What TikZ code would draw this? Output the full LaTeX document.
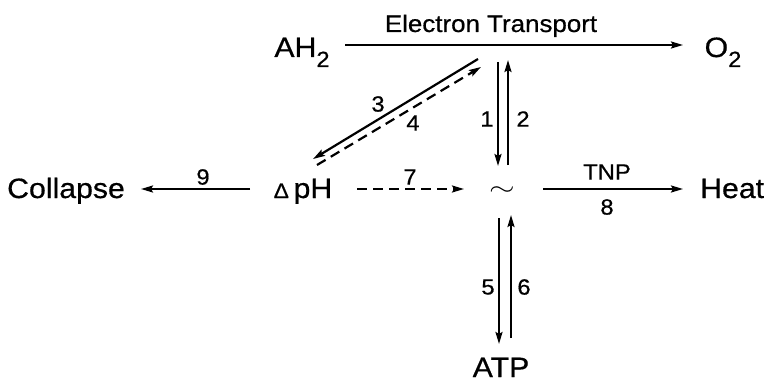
\documentclass[tikz,border=0pt]{standalone}
\usepackage{fontspec}
\setmainfont{Liberation Sans}[FakeStretch=1.08,FakeBold=0.6]
\usepackage{graphicx}
\usetikzlibrary{arrows.meta}
\begin{document}
\begin{tikzpicture}[x=1pt,y=-1pt,
  big/.style={font=\fontsize{28}{32}\selectfont, inner sep=0pt, anchor=base},
  lab/.style={font=\fontsize{22}{24}\selectfont, inner sep=0pt},
  arr/.style={line width=2.2pt, -{Stealth[length=12pt,width=7pt,inset=2pt]}},
  dsh/.style={arr, dash pattern=on 10pt off 6pt}]
\useasboundingbox (0,0) rectangle (768,385);
% main texts
\node[big] (ah2) at (302,57) {AH\raisebox{-10pt}{\fontsize{22}{24}\selectfont 2}};
\node[big, font=\fontsize{24}{28}\selectfont] (et) at (491,32) {Electron Transport};
\node[big] (o2) at (723,57) {O\raisebox{-10pt}{\fontsize{22}{24}\selectfont 2}};
\node[big, anchor=base west] (col) at (7,198) {Collapse};
\node[big] (dph) at (303,198) {{\fontsize{21}{22}\selectfont Δ}\,pH};
\node[inner sep=0pt] (sq) at (502,191) {\scalebox{3.3}[2.4]{$\sim$}};
\node[big, anchor=base west] (heat) at (700,198) {Heat};
\node[big] (atp) at (501,377) {ATP};
% connector end points
\coordinate (etL) at (345,45);
\coordinate (etR) at (683,45);
\coordinate (d3a) at (478,59);
\coordinate (d3b) at (313,159);
\coordinate (d4a) at (317,165);
\coordinate (d4b) at (481,67);
\coordinate (v1a) at (498,62);
\coordinate (v1b) at (498,166);
\coordinate (v2a) at (508,165);
\coordinate (v2b) at (508,60);
\coordinate (v5a) at (499,218);
\coordinate (v5b) at (499,344);
\coordinate (v6a) at (511,338);
\coordinate (v6b) at (511,215);
\coordinate (c9a) at (250,189);
\coordinate (c9b) at (141,189);
\coordinate (c7a) at (357,189);
\coordinate (c7b) at (464,189);
\coordinate (c8a) at (543,189);
\coordinate (c8b) at (683,189);
% connectors
\draw[arr] (etL) -- (etR);
\draw[arr] (d3a) -- (d3b);
\draw[dsh] (d4a) -- (d4b);
\draw[arr] (v1a) -- (v1b);
\draw[arr] (v2a) -- (v2b);
\draw[arr] (v5a) -- (v5b);
\draw[arr] (v6a) -- (v6b);
\draw[arr] (c9a) -- (c9b);
\draw[dsh] (c7a) -- (c7b);
\draw[arr] (c8a) -- (c8b);
% labels
\node[lab] (l3) at (378,104) {3};
\node[lab] (l4) at (413,123) {4};
\node[lab] (l1) at (487,119) {1};
\node[lab] (l2) at (523,119) {2};
\node[lab] (l5) at (488,287) {5};
\node[lab] (l6) at (524,287) {6};
\node[lab] (l7) at (410,177) {7};
\node[lab] (l9) at (203,177) {9};
\node[lab] (ltnp) at (607,172) {TNP};
\node[lab] (l8) at (607,207) {8};
\end{tikzpicture}
\end{document}
